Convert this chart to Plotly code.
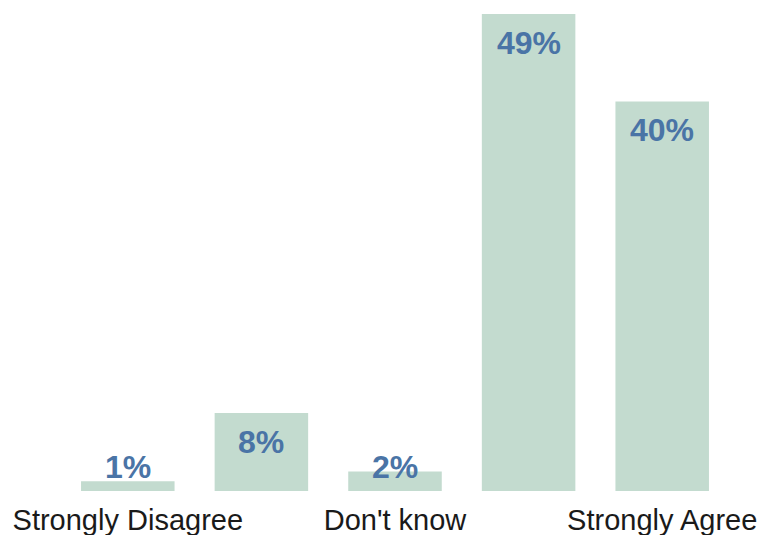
import plotly.graph_objects as go

categories = ["Strongly Disagree", "Disagree", "Don't know", "Agree", "Strongly Agree"]
values = [1, 8, 2, 49, 40]
shown_ticks = ["Strongly Disagree", "Don't know", "Strongly Agree"]

BAR_COLOR = "#c3dbcf"
LABEL_COLOR = "#4a74a6"

fig = go.Figure()
fig.add_trace(go.Bar(
    x=categories, y=values,
    marker=dict(color=BAR_COLOR, line=dict(width=0)),
    hoverinfo="x+y",
))

for c, v in zip(categories, values):
    fig.add_annotation(
        x=c, y=max(v - 2.95, 2.45), text=f"<b>{v}%</b>",
        showarrow=False, xanchor="center", yanchor="middle",
        font=dict(family="Liberation Sans, Arial, sans-serif", size=32, color=LABEL_COLOR),
    )

fig.update_layout(
    width=761, height=535,
    margin=dict(l=61, r=32, t=14, b=44, autoexpand=False),
    paper_bgcolor="white", plot_bgcolor="white",
    bargap=0.3,
    showlegend=False,
    xaxis=dict(
        tickmode="array", tickvals=shown_ticks, ticktext=shown_ticks,
        showgrid=False, zeroline=False, showline=False, ticks="",
        ticklabelstandoff=9, automargin=False,
        tickfont=dict(family="Liberation Sans, Arial, sans-serif", size=29, color="#1a1a1a"),
    ),
    yaxis=dict(range=[0, 49], visible=False, showgrid=False, zeroline=False, automargin=False),
)

fig.write_html("out.html")
